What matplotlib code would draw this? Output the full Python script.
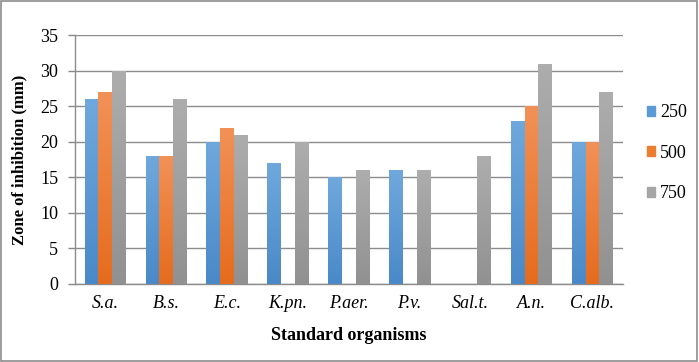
import numpy as np
import matplotlib
matplotlib.use("Agg")
import matplotlib.pyplot as plt
from matplotlib.patches import Rectangle
from matplotlib.colors import LinearSegmentedColormap

# data
organisms = ["S.a.", "B.s.", "E.c.", "K.pn.", "P.aer.", "P.v.", "Sal.t.", "A.n.", "C.alb."]
conc_250 = [26, 18, 20, 17, 15, 16, 0, 23, 20]
conc_500 = [27, 18, 22, 0, 0, 0, 0, 25, 20]
conc_750 = [30, 26, 21, 20, 16, 16, 18, 31, 27]
series_labels = ["250", "500", "750"]

# (top colour, bottom colour) for the Excel-like gradient, plus legend colour
colors = [("#6FA8DC", "#4A89C8"), ("#F29157", "#E56C1E"), ("#ADADAD", "#919191")]
legend_colors = ["#5B9BD5", "#ED7D31", "#A5A5A5"]

plt.rcParams["font.family"] = ["Liberation Serif", "DejaVu Serif"]

fig = plt.figure(figsize=(6.99, 3.62), dpi=100)
ax = fig.add_axes([0.107, 0.2155, 0.784, 0.687])

x = np.arange(len(organisms))
width = 0.225
all_series = [conc_250, conc_500, conc_750]

for i, vals in enumerate(all_series):
    top, bottom = colors[i]
    bars = ax.bar(x + (i - 1) * width, vals, width, color=top, label=series_labels[i], zorder=2)
    cmap = LinearSegmentedColormap.from_list("g%d" % i, [bottom, top])
    grad = np.linspace(0, 1, 64).reshape(-1, 1)
    for b in bars:
        if b.get_height() <= 0:
            continue
        x0, y0 = b.get_x(), b.get_y()
        im = ax.imshow(grad, cmap=cmap, origin="lower", aspect="auto",
                       extent=[x0, x0 + b.get_width(), y0, y0 + b.get_height()], zorder=3)
        im.set_clip_path(b)

ax.set_xlim(-0.5, len(organisms) - 0.5)
ax.set_ylim(0, 35)
ax.set_yticks(range(0, 36, 5))
ax.set_xticks(x)
ax.set_xticklabels(organisms, fontstyle="italic", fontsize=13)
ax.tick_params(axis="y", labelsize=13, length=5, color="#888888", width=1, pad=7)
ax.tick_params(axis="x", length=0, pad=8)
ax.grid(axis="y", color="#8C8C8C", linewidth=1, zorder=1)
ax.set_axisbelow(True)
for s in ["top", "right"]:
    ax.spines[s].set_visible(False)
for s in ["left", "bottom"]:
    ax.spines[s].set_color("#8C8C8C")
    ax.spines[s].set_linewidth(1)

ax.set_ylabel("Zone of inhibition (mm)", fontsize=12, fontweight="bold", labelpad=9)
ax.set_xlabel("Standard organisms", fontsize=13, fontweight="bold", labelpad=11)

handles = [Rectangle((0, 0), 1, 1, color=c) for c in legend_colors]
fig.legend(handles, series_labels, loc="center left", bbox_to_anchor=(0.902, 0.577),
           frameon=False, fontsize=13, handlelength=0.45, handleheight=0.45,
           handletextpad=0.3, labelspacing=1.3)

# outer chart border
fig.patches.append(Rectangle((0.002, 0.003), 0.995, 0.993, transform=fig.transFigure,
                             fill=False, edgecolor="#8C8C8C", linewidth=1.2))

fig.savefig("out.png", dpi=100)
